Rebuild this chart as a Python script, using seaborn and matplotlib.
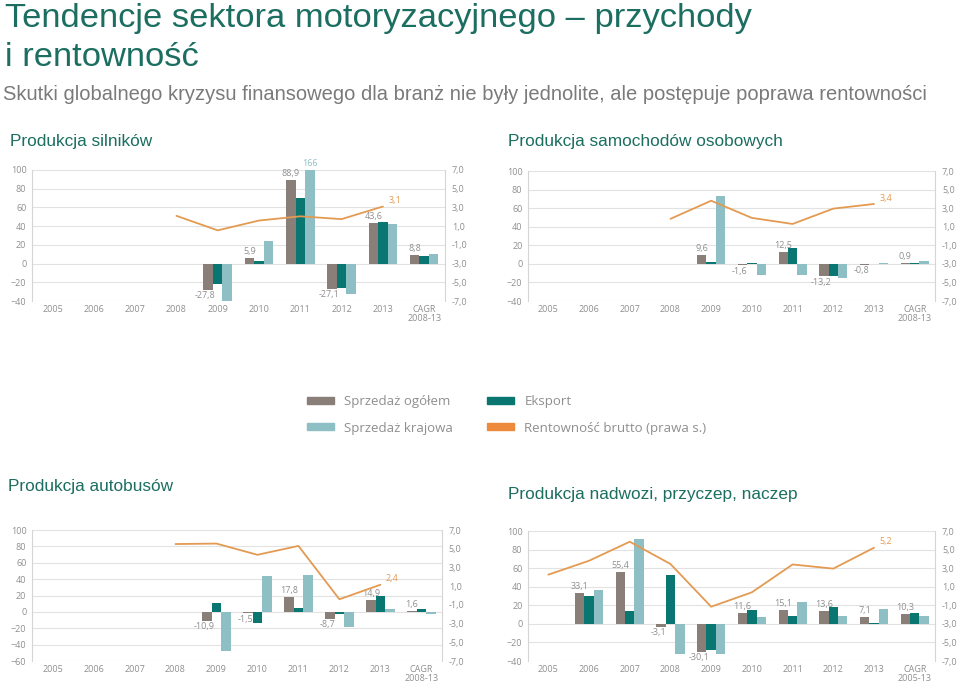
import numpy as np
import pandas as pd
import matplotlib
matplotlib.use("Agg")
import matplotlib.pyplot as plt
import seaborn as sns
from matplotlib.patches import Patch
from matplotlib.ticker import FuncFormatter

# ---------------- data ----------------
years = ["2005", "2006", "2007", "2008", "2009", "2010", "2011", "2012", "2013"]
cats_a = years + ["CAGR\n2008-13"]
cats_b = years + ["CAGR\n2005-13"]
series = ["Sprzedaż ogółem", "Eksport", "Sprzedaż krajowa"]
nan = np.nan

# Produkcja silników
sil_total = [nan, nan, nan, nan, -27.8, 5.9, 88.9, -27.1, 43.6, 8.8]
sil_export = [nan, nan, nan, nan, -22, 3, 70, -26, 44, 8]
sil_domestic = [nan, nan, nan, nan, -41, 24, 166, -33, 42, 10]
sil_profit = [nan, nan, nan, 2.1, 0.55, 1.6, 2.05, 1.75, 3.1]
sil_end = "3,1"

# Produkcja samochodów osobowych
sam_total = [nan, nan, nan, nan, 9.6, -1.6, 12.5, -13.2, -0.8, 0.9]
sam_export = [nan, nan, nan, nan, 1.5, 1.0, 17, -13, -0.5, 0.5]
sam_domestic = [nan, nan, nan, nan, 73, -12, -12, -15, 0.5, 3]
sam_profit = [nan, nan, nan, 1.85, 3.8, 1.95, 1.3, 2.95, 3.45]
sam_end = "3,4"

# Produkcja autobusów
aut_total = [nan, nan, nan, nan, -10.9, -1.5, 17.8, -8.7, 14.9, 1.6]
aut_export = [nan, nan, nan, nan, 11, -14, 5, -2, 20, 3]
aut_domestic = [nan, nan, nan, nan, -48, 44, 45, -18, 4, -2]
aut_profit = [nan, nan, nan, 5.5, 5.55, 4.35, 5.3, -0.4, 1.15]
aut_end = "2,4"

# Produkcja nadwozi, przyczep, naczep
nad_total = [nan, 33.1, 55.4, -3.1, -30.1, 11.6, 15.1, 13.6, 7.1, 10.3]
nad_export = [nan, 30, 14, 53, -28, 15, 8, 18, 1, 12]
nad_domestic = [nan, 37, 91, -32, -32, 7, 24, 8, 16, 9]
nad_profit = [2.3, 3.8, 5.85, 3.45, -1.15, 0.4, 3.4, 2.95, 5.2]
nad_end = "5,2"

legend_labels = ["Sprzedaż ogółem", "Sprzedaż krajowa", "Eksport", "Rentowność brutto (prawa s.)"]

# ---------------- style ----------------
sns.set_style("white")
plt.rcParams["font.family"] = ["Liberation Sans", "DejaVu Sans"]
CH_FONT = ["Open Sans", "DejaVu Sans"]

C_TOTAL = "#8a7f78"
C_EXPORT = "#0a7672"
C_DOM = "#8dbfc4"
C_LINE = "#e39a52"
C_LEG_LINE = "#ee8a3c"
C_TXT = "#8f8f8f"
C_TITLE = "#1b6e60"
C_GRID = "#e2e2e2"
palette = {series[0]: C_TOTAL, series[1]: C_EXPORT, series[2]: C_DOM}

fig = plt.figure(figsize=(9.6, 6.86), dpi=100)

comma = lambda v: f"{v:.1f}".replace(".", ",")


def draw(rect, cats, total, export, domestic, profit, end_label, ylim, yticks):
    ax = fig.add_axes(rect)
    n = len(cats)
    df = pd.DataFrame({
        "kat": list(cats) * 3,
        "seria": [s for s in series for _ in range(n)],
        "wartosc": list(total) + list(export) + list(domestic),
    }).dropna()
    sns.barplot(data=df, x="kat", y="wartosc", hue="seria", order=cats,
                hue_order=series, palette=palette, width=0.69, gap=0,
                saturation=1, errorbar=None, legend=False, ax=ax, zorder=2,
                linewidth=0)
    ax.set_ylim(*ylim)
    ax.set_yticks(yticks)
    ax.yaxis.grid(True, color=C_GRID, lw=0.8, zorder=0)
    ax.set_axisbelow(True)
    ax.set_xlabel("")
    ax.set_ylabel("")

    # labels of bars
    for ci, cont in enumerate(ax.containers):
        for p in cont.patches:
            h = p.get_height()
            xc = p.get_x() + p.get_width() / 2
            if ci == 0:
                if h >= 0:
                    ax.annotate(comma(h), (xc, h), xytext=(0, 1.5), textcoords="offset points",
                                ha="center", va="bottom", fontsize=6.5, color=C_TXT, family=CH_FONT)
                else:
                    ax.annotate(comma(h), (xc, h), xytext=(-2, -1), textcoords="offset points",
                                ha="center", va="top", fontsize=6.5, color=C_TXT, family=CH_FONT)
            elif h > ylim[1]:
                ax.annotate(f"{h:.0f}", (xc, ylim[1]), xytext=(0, 1.5), textcoords="offset points",
                            ha="center", va="bottom", fontsize=6.5, color=C_DOM, family=CH_FONT,
                            annotation_clip=False)

    ax2 = ax.twinx()
    pos = [i for i, v in enumerate(profit) if not np.isnan(v)]
    vals = [v for v in profit if not np.isnan(v)]
    sns.lineplot(x=pos, y=vals, ax=ax2, color=C_LINE, lw=1.3)
    ax2.annotate(end_label, (pos[-1], vals[-1]), xytext=(4, 1), textcoords="offset points",
                 ha="left", va="bottom", fontsize=6.5, color=C_LINE, family=CH_FONT)
    ax2.set_ylim(-7, 7)
    ax2.set_yticks(np.arange(-7, 8, 2))
    ax2.yaxis.set_major_formatter(FuncFormatter(lambda v, _: comma(v)))
    ax2.set_ylabel("")

    ax.set_xlim(-0.5, n - 0.5)
    ax.set_xticks(range(n))
    ax.set_xticklabels(cats)

    for a in (ax, ax2):
        for s in a.spines.values():
            s.set_visible(False)
        a.tick_params(length=0, labelsize=6.5, labelcolor=C_TXT)
        for lab in a.get_xticklabels() + a.get_yticklabels():
            lab.set_family(CH_FONT)
            lab.set_linespacing(0.95)
    ax.spines["left"].set_visible(True)
    ax.spines["left"].set_color("#d5d5d5")
    ax2.spines["right"].set_visible(True)
    ax2.spines["right"].set_color("#d5d5d5")
    ax.tick_params(axis="x", pad=3)
    ax.tick_params(axis="y", pad=4)
    ax2.tick_params(axis="y", pad=5)
    return ax


yt_a = np.arange(-40, 101, 20)
yt_c = np.arange(-60, 101, 20)

draw([0.0333, 0.5612, 0.430, 0.191], cats_a, sil_total, sil_export, sil_domestic,
     sil_profit, sil_end, (-40, 100), yt_a)
draw([0.550, 0.5612, 0.424, 0.1895], cats_a, sam_total, sam_export, sam_domestic,
     sam_profit, sam_end, (-40, 100), yt_a)
draw([0.0333, 0.0364, 0.427, 0.191], cats_a, aut_total, aut_export, aut_domestic,
     aut_profit, aut_end, (-60, 100), yt_c)
draw([0.550, 0.0364, 0.424, 0.1895], cats_b, nad_total, nad_export, nad_domestic,
     nad_profit, nad_end, (-40, 100), yt_a)

# ---------------- titles ----------------
def fy(py):
    return 1 - py / 686

fig.text(5 / 960, fy(27), "Tendencje sektora motoryzacyjnego – przychody", fontsize=24.8,
         color=C_TITLE, va="baseline", ha="left")
fig.text(5 / 960, fy(66), "i rentowność", fontsize=24.8, color=C_TITLE, va="baseline", ha="left")
fig.text(3 / 960, fy(100), "Skutki globalnego kryzysu finansowego dla branż nie były jednolite, "
         "ale postępuje poprawa rentowności", fontsize=14.5, color="#7a7a7a",
         va="baseline", ha="left")
fig.text(10 / 960, fy(146), "Produkcja silników", fontsize=12.4, color=C_TITLE, va="baseline")
fig.text(508 / 960, fy(146), "Produkcja samochodów osobowych", fontsize=12.4, color=C_TITLE, va="baseline")
fig.text(8 / 960, fy(491), "Produkcja autobusów", fontsize=12.4, color=C_TITLE, va="baseline")
fig.text(508 / 960, fy(499), "Produkcja nadwozi, przyczep, naczep", fontsize=12.4, color=C_TITLE,
         va="baseline")

# ---------------- legend ----------------
handles = [Patch(color=C_TOTAL), Patch(color=C_DOM), Patch(color=C_EXPORT), Patch(color=C_LEG_LINE)]
leg = fig.legend(handles, legend_labels, loc="center", bbox_to_anchor=(0.528, fy(415)), ncol=2,
                 frameon=False, fontsize=9.5, handlelength=2.0, handleheight=0.45,
                 columnspacing=2.6, labelspacing=1.0, handletextpad=0.8,
                 labelcolor=C_TXT, prop={"family": CH_FONT, "size": 9.5})

fig.savefig("out.png", dpi=100)
